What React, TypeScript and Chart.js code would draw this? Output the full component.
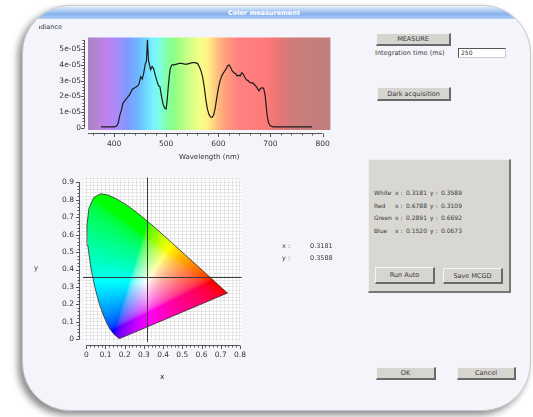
import React, { useEffect, useRef } from 'react';
import { Chart, registerables } from 'chart.js';

Chart.register(...registerables);

// ---------- Spectrum data (irradiance in units of 1e-05) ----------
const wavelengths = [
  375, 380, 390, 400, 405, 408, 411, 414, 417, 420, 425, 430, 435, 440, 445, 448, 451, 454, 457, 460,
  462, 464, 466, 468, 470, 473, 476, 479, 482, 485, 488, 491, 494, 497, 500, 502, 504, 506, 508, 511,
  515, 520, 525, 530, 535, 540, 545, 550, 555, 560, 564, 567, 570, 573, 576, 579, 582, 585, 588, 591,
  594, 597, 600, 603, 606, 609, 612, 615, 618, 621, 624, 627, 630, 633, 636, 639, 642, 645, 648, 651,
  654, 657, 660, 663, 666, 669, 672, 675, 678, 681, 684, 687, 690, 692, 694, 696, 698, 700, 703, 706,
  710, 720, 740, 760, 780,
];
const irradiance = [
  0.05, 0.05, 0.05, 0.05, 0.1, 0.3, 0.8, 1.1, 1.55, 1.7, 1.9, 2.1, 2.45, 2.55, 2.65, 2.8, 3.25, 3.1, 3.5, 4.1,
  4.2, 5.6, 4.3, 4.0, 3.7, 3.9, 3.75, 3.35, 3.0, 2.7, 2.6, 2.0, 1.5, 1.25, 1.2, 1.8, 2.6, 3.3, 3.8, 4.0,
  4.0, 4.05, 4.1, 4.1, 4.05, 4.05, 4.1, 4.15, 4.15, 4.1, 3.85, 3.6, 3.2, 2.6, 1.8, 1.2, 0.85, 0.68, 0.66, 0.8,
  1.25, 1.9, 2.5, 2.95, 3.25, 3.45, 3.6, 3.75, 3.95, 4.0, 3.8, 3.6, 3.5, 3.45, 3.3, 3.35, 3.3, 3.5, 3.4, 3.2,
  3.05, 3.0, 2.9, 2.85, 2.85, 2.75, 2.65, 2.5, 2.35, 2.5, 2.55, 2.5, 2.0, 1.3, 0.7, 0.35, 0.2, 0.12, 0.08, 0.05,
  0.05, 0.05, 0.05, 0.05, 0.05,
];

// Rainbow background stops (wavelength nm -> colour)
const bgWavelengths = [350, 385, 405, 425, 445, 462, 475, 488, 500, 515, 540, 565, 580, 598, 615, 640, 690, 715, 750, 815];
const bgColors = [
  '#ab84bf', '#bd82ec', '#a98cfa', '#8098ff', '#6cb6ff', '#6fd8ff', '#78f2ff', '#7cffe0', '#80ffa8', '#8cff84',
  '#c8ff84', '#f4ff88', '#fff084', '#ffc07e', '#ff9a7c', '#ff8080', '#ff7a7a', '#e87676', '#cc7c7c', '#bf7e7e',
];

// ---------- CIE 1931 spectral locus (x, y) ----------
const locusX = [
  0.1741, 0.1714, 0.1644, 0.1566, 0.144, 0.1241, 0.1096, 0.0913, 0.0687, 0.0454, 0.0235, 0.0082, 0.0039,
  0.0139, 0.0389, 0.0743, 0.1142, 0.1547, 0.1929, 0.2296, 0.2658, 0.3016, 0.3373, 0.3731, 0.4087, 0.4441,
  0.4788, 0.5125, 0.5448, 0.5752, 0.6029, 0.627, 0.6658, 0.6915, 0.7079, 0.719, 0.726, 0.73, 0.7334, 0.7347,
];
const locusY = [
  0.005, 0.0051, 0.0109, 0.0177, 0.0297, 0.0578, 0.0868, 0.1327, 0.2007, 0.295, 0.4127, 0.5384, 0.6548,
  0.7502, 0.812, 0.8338, 0.8262, 0.8059, 0.7816, 0.7543, 0.7243, 0.6923, 0.6589, 0.6245, 0.5896, 0.5547,
  0.5202, 0.4866, 0.4544, 0.4242, 0.3965, 0.3725, 0.334, 0.3083, 0.292, 0.2809, 0.274, 0.27, 0.2666, 0.2653,
];

const measuredX = 0.3181;
const measuredY = 0.3588;

const primaryNames = ['White', 'Red', 'Green', 'Blue'];
const primaryX = ['0.3181', '0.6788', '0.2891', '0.1520'];
const primaryY = ['0.3589', '0.3109', '0.6692', '0.0673'];

const FONT = '"DejaVu Sans", sans-serif';

// ---------- plugins ----------
const spectrumBg = {
  id: 'spectrumBg',
  beforeDatasetsDraw(chart: any) {
    const { ctx, chartArea, scales } = chart;
    const x = scales.x;
    const g = ctx.createLinearGradient(chartArea.left, 0, chartArea.right, 0);
    const span = chartArea.right - chartArea.left;
    bgWavelengths.forEach((w, i) => {
      const p = (x.getPixelForValue(w) - chartArea.left) / span;
      g.addColorStop(Math.min(1, Math.max(0, p)), bgColors[i]);
    });
    ctx.save();
    ctx.fillStyle = g;
    ctx.fillRect(chartArea.left, chartArea.top, span, chartArea.bottom - chartArea.top);
    ctx.restore();
  },
};

const plotBg = {
  id: 'plotBg',
  beforeDraw(chart: any) {
    const { ctx, chartArea } = chart;
    ctx.save();
    ctx.fillStyle = '#ffffff';
    ctx.fillRect(chartArea.left, chartArea.top, chartArea.right - chartArea.left, chartArea.bottom - chartArea.top);
    ctx.restore();
  },
};

function gammaC(c: number) {
  return c <= 0.0031308 ? 12.92 * c : 1.055 * Math.pow(c, 1 / 2.4) - 0.055;
}
function xyToRgb(x: number, y: number): [number, number, number] {
  const yy = Math.max(y, 1e-4);
  const X = x / yy;
  const Y = 1;
  const Z = (1 - x - yy) / yy;
  let r = 3.2406 * X - 1.5372 * Y - 0.4986 * Z;
  let g = -0.9689 * X + 1.8758 * Y + 0.0415 * Z;
  let b = 0.0557 * X - 0.204 * Y + 1.057 * Z;
  r = Math.max(r, 0);
  g = Math.max(g, 0);
  b = Math.max(b, 0);
  const m = Math.max(r, g, b, 1e-6);
  return [gammaC(r / m) * 255, gammaC(g / m) * 255, gammaC(b / m) * 255];
}

const cieFill = {
  id: 'cieFill',
  beforeDatasetsDraw(chart: any) {
    const { ctx, chartArea, scales } = chart;
    const pts = chart.getDatasetMeta(0).data;
    const left = Math.floor(chartArea.left);
    const top = Math.floor(chartArea.top);
    const w = Math.ceil(chartArea.right) - left;
    const h = Math.ceil(chartArea.bottom) - top;
    const off = document.createElement('canvas');
    off.width = w;
    off.height = h;
    const octx = off.getContext('2d')!;
    const img = octx.createImageData(w, h);
    for (let py = 0; py < h; py++) {
      const yv = scales.y.getValueForPixel(top + py + 0.5);
      for (let px = 0; px < w; px++) {
        const xv = scales.x.getValueForPixel(left + px + 0.5);
        const [r, g, b] = xyToRgb(xv, yv);
        const k = (py * w + px) * 4;
        img.data[k] = r;
        img.data[k + 1] = g;
        img.data[k + 2] = b;
        img.data[k + 3] = 255;
      }
    }
    octx.putImageData(img, 0, 0);
    ctx.save();
    ctx.beginPath();
    pts.forEach((p: any, i: number) => (i ? ctx.lineTo(p.x, p.y) : ctx.moveTo(p.x, p.y)));
    ctx.closePath();
    ctx.clip();
    ctx.drawImage(off, left, top);
    ctx.restore();
  },
};

const crosshair = {
  id: 'crosshair',
  afterDatasetsDraw(chart: any) {
    const { ctx, chartArea, scales } = chart;
    const px = Math.round(scales.x.getPixelForValue(measuredX)) + 0.5;
    const py = Math.round(scales.y.getPixelForValue(measuredY)) + 0.5;
    ctx.save();
    ctx.strokeStyle = '#3a3a3a';
    ctx.lineWidth = 1;
    ctx.beginPath();
    ctx.moveTo(px, chartArea.top);
    ctx.lineTo(px, chartArea.bottom);
    ctx.moveTo(chartArea.left, py);
    ctx.lineTo(chartArea.right, py);
    ctx.stroke();
    ctx.restore();
  },
};

const qwtAxes = {
  id: 'qwtAxes',
  afterDraw(chart: any, _args: any, opts: any) {
    const { ctx, chartArea, scales } = chart;
    ctx.save();
    ctx.strokeStyle = '#555';
    ctx.lineWidth = 1;
    ctx.beginPath();
    const ax = opts.x;
    const yb = Math.round(chartArea.bottom + opts.gap) + 0.5;
    ctx.moveTo(scales.x.getPixelForValue(ax.from), yb);
    ctx.lineTo(scales.x.getPixelForValue(ax.to), yb);
    for (let i = Math.ceil(ax.from / ax.minor - 1e-9); i * ax.minor <= ax.to + 1e-9; i++) {
      const v = i * ax.minor;
      const major = Math.abs(v / ax.major - Math.round(v / ax.major)) < 1e-6;
      const px = Math.round(scales.x.getPixelForValue(v)) + 0.5;
      ctx.moveTo(px, yb);
      ctx.lineTo(px, yb + (major ? 3.5 : 2));
    }
    const ay = opts.y;
    const xb = Math.round(chartArea.left - opts.gap) - 0.5;
    ctx.moveTo(xb, scales.y.getPixelForValue(ay.from));
    ctx.lineTo(xb, scales.y.getPixelForValue(ay.to));
    for (let i = Math.ceil(ay.from / ay.minor - 1e-9); i * ay.minor <= ay.to + 1e-9; i++) {
      const v = i * ay.minor;
      const major = Math.abs(v / ay.major - Math.round(v / ay.major)) < 1e-6;
      const py = Math.round(scales.y.getPixelForValue(v)) + 0.5;
      ctx.moveTo(xb, py);
      ctx.lineTo(xb - (major ? 3.5 : 2), py);
    }
    ctx.stroke();
    ctx.restore();
  },
};

const tickFont = { family: FONT, size: 7.5 };

function SpectrumChart() {
  const ref = useRef<HTMLCanvasElement>(null);
  useEffect(() => {
    const chart = new Chart(ref.current!, {
      type: 'line',
      data: {
        datasets: [
          {
            data: wavelengths.map((w, i) => ({ x: w, y: irradiance[i] })),
            borderColor: '#1c1c1c',
            borderWidth: 1.2,
            pointRadius: 0,
            tension: 0,
            fill: false,
          },
        ],
      },
      options: {
        animation: false,
        responsive: false,
        layout: { padding: { top: 8, right: 8, left: 0, bottom: 0 } },
        plugins: {
          legend: { display: false },
          tooltip: { enabled: false },
          qwtAxes: { gap: 3, x: { from: 350, to: 800, major: 100, minor: 20 }, y: { from: 0, to: 5.6, major: 1, minor: 0.2 } },
        } as any,
        scales: {
          x: {
            type: 'linear',
            min: 350,
            max: 815,
            ticks: { stepSize: 100, includeBounds: false, maxRotation: 0, font: tickFont, color: '#333', padding: 10 },
            grid: { display: false, drawTicks: false },
            border: { display: false },
            title: { display: true, text: 'Wavelength (nm)', font: { family: FONT, size: 7 }, color: '#333', padding: { top: 0, bottom: 2 } },
            afterFit: (s: any) => {
              s.height = 33;
            },
          },
          y: {
            min: -0.15,
            max: 5.75,
            ticks: {
              stepSize: 1,
              includeBounds: false,
              font: tickFont,
              color: '#333',
              padding: 7,
              callback: (v: any) => (v === 0 ? '0' : `${v}e-05`),
            },
            grid: { display: false, drawTicks: false },
            border: { display: false },
            afterFit: (s: any) => {
              s.width = 58;
            },
          },
        },
      } as any,
      plugins: [spectrumBg, qwtAxes],
    });
    return () => chart.destroy();
  }, []);
  return <canvas ref={ref} width={310} height={137} style={{ position: 'absolute', left: 30, top: 26 }} />;
}

function CieChart() {
  const ref = useRef<HTMLCanvasElement>(null);
  useEffect(() => {
    const pts = locusX.map((x, i) => ({ x, y: locusY[i] }));
    pts.push({ x: locusX[0], y: locusY[0] });
    const label = (v: any) => {
      const t = v * 10;
      if (Math.abs(t - Math.round(t)) > 1e-6) return '';
      return Math.round(t) === 0 ? '0' : (Math.round(t) / 10).toFixed(1);
    };
    const chart = new Chart(ref.current!, {
      type: 'scatter',
      data: {
        datasets: [
          {
            data: pts,
            showLine: true,
            borderColor: '#2e2e2e',
            borderWidth: 0.8,
            pointRadius: 0,
            fill: false,
          },
        ],
      },
      options: {
        animation: false,
        responsive: false,
        layout: { padding: { top: 6, right: 7, left: 0, bottom: 0 } },
        plugins: {
          legend: { display: false },
          tooltip: { enabled: false },
          qwtAxes: { gap: 3, x: { from: 0, to: 0.8, major: 0.1, minor: 0.02 }, y: { from: 0, to: 0.9, major: 0.1, minor: 0.02 } },
        } as any,
        scales: {
          x: {
            type: 'linear',
            min: -0.017,
            max: 0.808,
            ticks: { stepSize: 0.02, includeBounds: false, autoSkip: false, maxRotation: 0, font: tickFont, color: '#333', padding: 9, callback: label },
            grid: { color: '#e0e0e0', lineWidth: 0.8, drawTicks: false },
            border: { display: false },
            title: { display: true, text: 'x', font: tickFont, color: '#333', padding: { top: 0, bottom: 4 } },
            afterFit: (s: any) => {
              s.height = 44;
            },
          },
          y: {
            type: 'linear',
            min: -0.015,
            max: 0.927,
            ticks: { stepSize: 0.02, includeBounds: false, autoSkip: false, font: tickFont, color: '#333', padding: 9, callback: label },
            grid: { color: '#e0e0e0', lineWidth: 0.8, drawTicks: false },
            border: { display: false },
            afterFit: (s: any) => {
              s.width = 53;
            },
          },
        },
      } as any,
      plugins: [plotBg, cieFill, crosshair, qwtAxes],
    });
    return () => chart.destroy();
  }, []);
  return <canvas ref={ref} width={225} height={222} style={{ position: 'absolute', left: 30, top: 164 }} />;
}

function Btn({ x, y, w, h, label }: { x: number; y: number; w: number; h: number; label: string }) {
  return (
    <div
      style={{
        position: 'absolute',
        left: x,
        top: y,
        width: w,
        height: h,
        boxSizing: 'border-box',
        background: '#d6d5d0',
        borderTop: '1px solid #f4f4f2',
        borderLeft: '1px solid #f4f4f2',
        borderRight: '2px solid #6a6a6a',
        borderBottom: '2px solid #6a6a6a',
        display: 'flex',
        alignItems: 'center',
        justifyContent: 'center',
        fontSize: 6.5,
        color: '#3a3a3a',
        whiteSpace: 'nowrap',
      }}
    >
      {label}
    </div>
  );
}

function Txt({ x, y, children, size = 6.5 }: { x: number; y: number; children: any; size?: number }) {
  return (
    <div style={{ position: 'absolute', left: x, top: y, fontSize: size, lineHeight: '8px', color: '#3a3a3a', whiteSpace: 'pre' }}>
      {children}
    </div>
  );
}

export default function App() {
  return (
    <div
      style={{
        position: 'absolute',
        left: 0,
        top: 0,
        width: 533,
        height: 417,
        background: '#ffffff',
        overflow: 'hidden',
        fontFamily: FONT,
      }}
    >
      <div
        style={{
          position: 'absolute',
          left: 22,
          top: 5,
          width: 509,
          height: 406,
          boxSizing: 'border-box',
          borderRadius: 48,
          background: '#f4f5fa',
          border: '1px solid #c4c6cc',
          boxShadow: '-4px 4px 7px rgba(0,0,0,0.45)',
          overflow: 'hidden',
        }}
      >
        <div
          style={{
            position: 'absolute',
            left: 0,
            top: 1,
            width: '100%',
            height: 12,
            background: 'linear-gradient(#d6e6fa, #9dc0ef 45%, #86b0ea 60%, #b4d0f4)',
          }}
        />
        <div
          style={{
            position: 'absolute',
            left: 0,
            top: 2,
            width: 482,
            textAlign: 'center',
            fontSize: 6.5,
            fontWeight: 'bold',
            color: '#ffffff',
            lineHeight: '10px',
          }}
        >
          Color measurement
        </div>
      </div>

      {/* cut-off axis title */}
      <div style={{ position: 'absolute', left: 39, top: 23, width: 23, height: 9, overflow: 'hidden' }}>
        <div style={{ position: 'absolute', right: 0, top: 0, fontSize: 6.5, color: '#3a3a3a', whiteSpace: 'nowrap', lineHeight: '8px' }}>
          Irradiance
        </div>
      </div>

      <SpectrumChart />
      <CieChart />

      <Txt x={34} y={264} size={7}>y</Txt>

      <Txt x={282} y={242}>x :</Txt>
      <Txt x={310} y={242}>{measuredX.toFixed(4)}</Txt>
      <Txt x={282} y={254}>y :</Txt>
      <Txt x={310} y={254}>{measuredY.toFixed(4)}</Txt>

      <Btn x={376} y={33} w={75} h={13} label="MEASURE" />
      <Txt x={375} y={49}>Integration time (ms)</Txt>
      <div
        style={{
          position: 'absolute',
          left: 458,
          top: 48,
          width: 48,
          height: 10,
          boxSizing: 'border-box',
          background: '#fff',
          borderTop: '1px solid #555',
          borderLeft: '1px solid #555',
          borderRight: '1px solid #ccc',
          borderBottom: '1px solid #ccc',
          fontSize: 6,
          lineHeight: '8px',
          paddingLeft: 2,
          color: '#333',
        }}
      >
        250
      </div>
      <Btn x={377} y={87} w={74} h={14} label="Dark acquisition" />

      <div
        style={{
          position: 'absolute',
          left: 368,
          top: 159,
          width: 143,
          height: 134,
          boxSizing: 'border-box',
          background: '#d8d7d2',
          borderTop: '1px solid #efefec',
          borderLeft: '1px solid #efefec',
          borderRight: '2px solid #777',
          borderBottom: '2px solid #777',
        }}
      />
      {primaryNames.map((n, i) => (
        <React.Fragment key={n}>
          <Txt x={374} y={189 + i * 12.5} size={6}>{n}</Txt>
          <Txt x={395} y={189 + i * 12.5} size={6}>x :</Txt>
          <Txt x={406} y={189 + i * 12.5} size={6}>{primaryX[i]}</Txt>
          <Txt x={430} y={189 + i * 12.5} size={6}>y :</Txt>
          <Txt x={441} y={189 + i * 12.5} size={6}>{primaryY[i]}</Txt>
        </React.Fragment>
      ))}
      <Btn x={375} y={267} w={60} h={17} label="Run Auto" />
      <Btn x={443} y={268} w={60} h={16} label="Save MCGD" />

      <Btn x={376} y={367} w={60} h={13} label="OK" />
      <Btn x={457} y={367} w={59} h={13} label="Cancel" />
    </div>
  );
}
